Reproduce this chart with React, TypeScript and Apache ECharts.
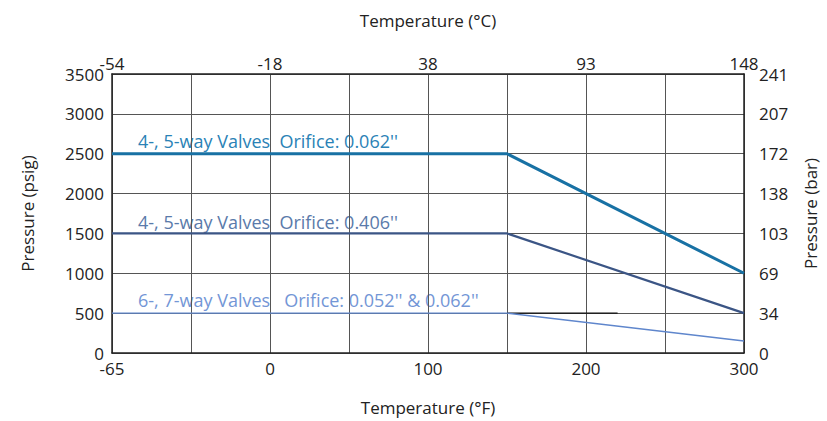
import React, { useEffect, useRef } from "react";
import * as echarts from "echarts";

// x positions use the chart's evenly spaced scale: -100 stands for -65 °F
const xTicksF = ["-65", "0", "100", "200", "300"];
const xTicksC = ["-54", "-18", "38", "93", "148"];
const xTickPos = [-100, 0, 100, 200, 300];
const barTicks = ["0", "34", "69", "103", "138", "172", "207", "241"];

const s1X = [-100, 150, 300];
const s1Y = [2500, 2500, 1000];
const s2X = [-100, 150, 300];
const s2Y = [1500, 1500, 500];
const s3X = [-100, 150, 300];
const s3Y = [500, 500, 150];
const refX = [150, 220];
const refY = [500, 500];

const FONT = "Open Sans";

function labelFor(v: number, labels: string[]) {
  const i = xTickPos.indexOf(v);
  return i >= 0 ? labels[i] : "";
}

export default function App() {
  const ref = useRef<HTMLDivElement>(null);
  useEffect(() => {
    if (!ref.current) return;
    document.body.style.margin = "0";
    const chart = echarts.init(ref.current, null, { renderer: "svg" });
    const pair = (xs: number[], ys: number[]) => xs.map((x, i) => [x, ys[i]]);
    const gridColor = "#555";
    const nameStyle = { fontSize: 17, color: "#222", fontFamily: FONT };
    chart.setOption({
      animation: false,
      textStyle: { fontFamily: FONT },
      grid: { left: 112, right: 80, top: 74, bottom: 65 },
      xAxis: [
        {
          type: "value",
          min: -100,
          max: 300,
          interval: 50,
          position: "bottom",
          name: "Temperature (°F)",
          nameLocation: "middle",
          nameGap: 46,
          nameTextStyle: nameStyle,
          axisLine: { show: true, onZero: false, lineStyle: { color: "#222", width: 1.5 } },
          axisTick: { show: false },
          splitLine: { show: true, lineStyle: { color: gridColor, width: 1 } },
          axisLabel: {
            fontSize: 17,
            color: "#222",
            margin: 7,
            formatter: (v: number) => labelFor(v, xTicksF),
          },
        },
        {
          type: "value",
          min: -100,
          max: 300,
          interval: 50,
          position: "top",
          name: "Temperature (°C)",
          nameLocation: "middle",
          nameGap: 45,
          nameTextStyle: nameStyle,
          axisLine: { show: true, onZero: false, lineStyle: { color: "#222", width: 1.5 } },
          axisTick: { show: false },
          splitLine: { show: false },
          axisLabel: {
            fontSize: 17,
            color: "#222",
            margin: 2,
            formatter: (v: number) => labelFor(v, xTicksC),
          },
        },
      ],
      yAxis: [
        {
          type: "value",
          min: 0,
          max: 3500,
          interval: 500,
          position: "left",
          name: "Pressure (psig)",
          nameLocation: "middle",
          nameGap: 76,
          nameTextStyle: nameStyle,
          axisLine: { show: true, onZero: false, lineStyle: { color: "#222", width: 1.5 } },
          axisTick: { show: false },
          splitLine: { show: true, lineStyle: { color: gridColor, width: 1 } },
          axisLabel: { fontSize: 17, color: "#222", margin: 8, formatter: (v: number) => String(v) },
        },
        {
          type: "value",
          min: 0,
          max: 3500,
          interval: 500,
          position: "right",
          name: "Pressure (bar)",
          nameLocation: "middle",
          nameGap: 58,
          nameTextStyle: nameStyle,
          axisLine: { show: true, onZero: false, lineStyle: { color: "#222", width: 1.5 } },
          axisTick: { show: false },
          splitLine: { show: false },
          axisLabel: {
            fontSize: 17,
            color: "#222",
            margin: 15,
            formatter: (v: number) => barTicks[Math.round(v / 500)] ?? "",
          },
        },
      ],
      series: [
        {
          type: "line",
          data: pair(refX, refY),
          symbol: "none",
          lineStyle: { color: "#111", width: 1.2 },
          z: 1,
        },
        {
          type: "line",
          data: pair(s1X, s1Y),
          symbol: "none",
          lineStyle: { color: "#1871a4", width: 3 },
          z: 3,
        },
        {
          type: "line",
          data: pair(s2X, s2Y),
          symbol: "none",
          lineStyle: { color: "#3b5585", width: 2.2 },
          z: 3,
        },
        {
          type: "line",
          data: pair(s3X, s3Y),
          symbol: "none",
          lineStyle: { color: "#5f86cc", width: 1.4 },
          z: 3,
        },
      ],
      graphic: [
        {
          type: "text",
          left: 138,
          top: 132,
          style: {
            text: "4-, 5-way Valves  Orifice: 0.062''",
            fontSize: 18,
            fontFamily: FONT,
            fill: "#2a82b6",
          },
        },
        {
          type: "text",
          left: 138,
          top: 213,
          style: {
            text: "4-, 5-way Valves  Orifice: 0.406''",
            fontSize: 18,
            fontFamily: FONT,
            fill: "#5a7aaa",
          },
        },
        {
          type: "text",
          left: 138,
          top: 291,
          style: {
            text: "6-, 7-way Valves   Orifice: 0.052'' & 0.062''",
            fontSize: 18,
            fontFamily: FONT,
            fill: "#7396d6",
          },
        },
      ],
    });
    return () => chart.dispose();
  }, []);
  return <div ref={ref} style={{ width: 827, height: 421 }} />;
}
